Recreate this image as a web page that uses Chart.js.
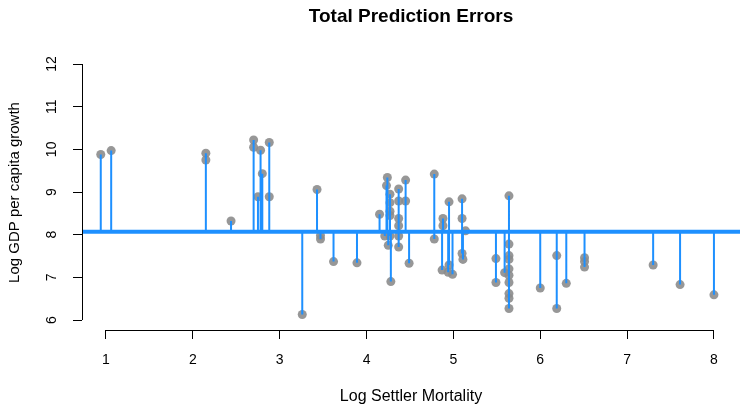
<!DOCTYPE html>
<html>
<head>
<meta charset="utf-8">
<script src="https://cdn.jsdelivr.net/npm/chart.js@4"></script>
<style>
  html, body { margin: 0; padding: 0; background: #fff; }
  #wrap { width: 740px; height: 406px; }
</style>
</head>
<body>
<div id="wrap"><canvas id="errorsChart"></canvas></div>
<script>
// values
const mortality = [
  0.94, 1.06, 2.15, 2.15, 2.44, 2.70, 2.70, 2.75, 2.78, 2.80, 2.88, 2.88,
  3.26, 3.43, 3.47, 3.47, 3.62, 3.89, 4.15, 4.24, 4.23, 4.27, 4.27, 4.27,
  4.27, 4.37, 4.45, 4.37, 4.45, 4.37, 4.37, 4.21, 4.27, 4.37, 4.25, 4.37,
  4.49, 4.28, 4.78, 4.78, 4.88, 4.88, 4.87, 4.95, 4.95, 4.94, 4.99, 5.10,
  5.10, 5.14, 5.10, 5.11, 5.49, 5.49, 5.59, 5.64, 5.64, 5.64, 5.64, 5.64,
  5.64, 5.64, 5.64, 5.64, 5.64, 6.00, 6.19, 6.19, 6.30, 6.51, 6.51, 6.51,
  7.30, 7.61, 8.00
];
const gdp = [
  9.88, 9.97, 9.91, 9.75, 8.32, 10.22, 10.05, 8.89, 9.98, 9.43, 8.89, 10.16,
  6.13, 9.06, 7.98, 7.90, 7.37, 7.34, 8.48, 9.34, 9.15, 8.95, 8.75, 8.55,
  8.45, 9.07, 9.28, 8.79, 8.79, 8.38, 8.21, 7.97, 7.97, 7.97, 7.75, 7.71,
  7.33, 6.90, 9.42, 7.90, 8.38, 8.21, 7.17, 8.77, 7.29, 7.12, 7.07, 8.84,
  8.38, 8.09, 7.56, 7.42, 7.44, 6.88, 7.11, 8.91, 7.78, 7.51, 7.42, 7.20,
  7.05, 6.88, 6.62, 6.51, 6.27, 6.75, 7.51, 6.27, 6.86, 7.46, 7.37, 7.24,
  7.29, 6.83, 6.59
];
const fitted = 8.07;          // flat prediction line
const xTicks = [1, 2, 3, 4, 5, 6, 7, 8];
const yTicks = [6, 7, 8, 9, 10, 11, 12];
const xRange = [0.724, 8.30];
const yRange = [5.766, 12.211];

const points = mortality.map((x, i) => ({ x: x, y: gdp[i] }));

// residual segments, broken with nulls
const segments = [];
mortality.forEach((x, i) => {
    segments.push({ x: x, y: fitted });
    segments.push({ x: x, y: gdp[i] });
    segments.push({ x: x, y: null });
});

const fitLine = [{ x: xRange[0], y: fitted }, { x: xRange[1], y: fitted }];

const blue = '#1E90FF';
const family = '"Liberation Sans", Arial, sans-serif';
const tickFont = { family: family, size: 14 };

// R style axis lines, only between first and last tick
const axisLines = {
    id: 'axisLines',
    afterDraw(chart) {
        const { ctx, scales: { x, y } } = chart;
        ctx.save();
        ctx.strokeStyle = '#000';
        ctx.lineWidth = 1;
        ctx.beginPath();
        const yb = Math.round(chart.chartArea.bottom) + 0.5;
        ctx.moveTo(x.getPixelForValue(xTicks[0]), yb);
        ctx.lineTo(x.getPixelForValue(xTicks[xTicks.length - 1]), yb);
        const xl = Math.round(chart.chartArea.left) + 0.5;
        ctx.moveTo(xl, y.getPixelForValue(yTicks[0]));
        ctx.lineTo(xl, y.getPixelForValue(yTicks[yTicks.length - 1]));
        ctx.stroke();
        ctx.restore();
    }
};

new Chart(document.getElementById('errorsChart'), {
    type: 'scatter',
    data: {
        datasets: [
            {
                label: 'fit',
                data: fitLine,
                showLine: true,
                borderColor: blue,
                borderWidth: 4,
                pointRadius: 0,
                order: 1
            },
            {
                label: 'residuals',
                data: segments,
                showLine: true,
                spanGaps: false,
                borderColor: blue,
                borderWidth: 2,
                pointRadius: 0,
                order: 2
            },
            {
                label: 'observed',
                data: points,
                backgroundColor: 'rgba(140,140,140,0.9)',
                borderWidth: 0,
                pointRadius: 4.5,
                order: 3
            }
        ]
    },
    options: {
        responsive: true,
        maintainAspectRatio: false,
        animation: false,
        layout: { padding: 0, autoPadding: false },
        plugins: {
            legend: { display: false },
            tooltip: { enabled: false },
            title: {
                display: true,
                fullSize: false,
                text: 'Total Prediction Errors',
                color: '#000',
                font: { family: family, size: 19, weight: 'bold' },
                padding: { top: 5.5, bottom: 26.7 }
            }
        },
        scales: {
            x: {
                type: 'linear',
                min: xRange[0],
                max: xRange[1],
                afterBuildTicks: s => { s.ticks = xTicks.map(v => ({ value: v })); },
                afterFit: s => { s.height = 76; },
                border: { display: false },
                grid: { drawOnChartArea: false, tickLength: 9, color: '#000', tickColor: '#000' },
                ticks: { color: '#000', font: tickFont, padding: 13, maxRotation: 0 },
                title: {
                    display: true,
                    text: 'Log Settler Mortality',
                    color: '#000',
                    font: { family: family, size: 16 },
                    padding: { top: 0, bottom: 0 }
                }
            },
            y: {
                type: 'linear',
                min: yRange[0],
                max: yRange[1],
                afterBuildTicks: s => { s.ticks = yTicks.map(v => ({ value: v })); },
                afterFit: s => { s.width = 82; },
                border: { display: false },
                grid: { drawOnChartArea: false, tickLength: 9, color: '#000', tickColor: '#000' },
                ticks: { color: '#000', font: tickFont, padding: 13, minRotation: 90, maxRotation: 90, crossAlign: 'center' },
                title: {
                    display: true,
                    text: 'Log GDP per capita growth',
                    color: '#000',
                    font: { family: family, size: 15 },
                    padding: { top: 6, bottom: 0 }
                }
            }
        }
    },
    plugins: [axisLines]
});
</script>
</body>
</html>
